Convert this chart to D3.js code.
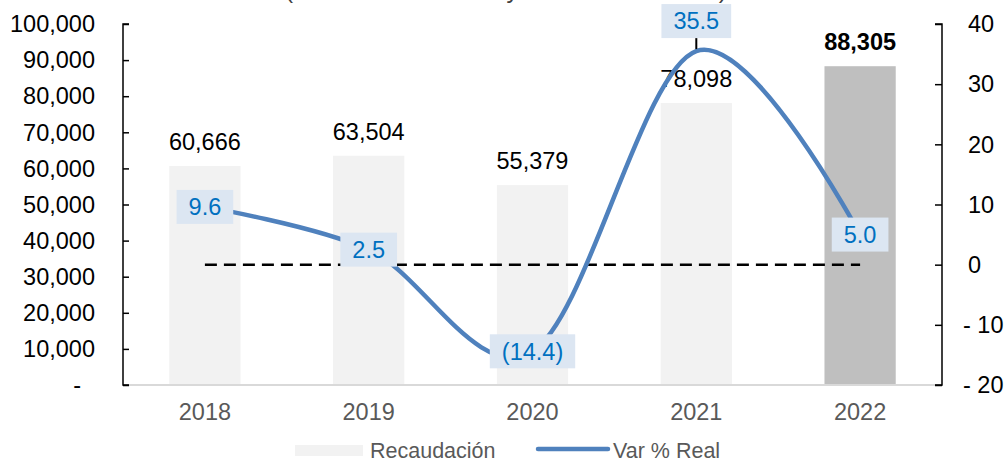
<!DOCTYPE html>
<html>
<head>
<meta charset="utf-8">
<script src="https://cdn.jsdelivr.net/npm/d3@7"></script>
<style>
  body { margin: 0; background: #fff; }
  text { font-family: "Liberation Sans", Arial, sans-serif; }
</style>
</head>
<body>
<div id="chart"></div>
<script>
"use strict"
// Data
var years = ["2018", "2019", "2020", "2021", "2022"];
var recaudacion = [60666, 63504, 55379, 78098, 88305];
var varReal = [9.6, 2.5, -14.4, 35.5, 5.0];
var leftTicks = [0, 10000, 20000, 30000, 40000, 50000, 60000, 70000, 80000, 90000, 100000];
var rightTicks = [-20, -10, 0, 10, 20, 30, 40];
var title = "(Millones de Pesos y Variación % Real)";

var width = 1006;
var height = 460;
var margin = { top: 24, right: 64, bottom: 75, left: 123 };
var drawWidth = width - margin.left - margin.right;
var drawHeight = height - margin.top - margin.bottom;

var xScale = d3.scaleBand().domain(years).range([0, drawWidth]).paddingInner(0.565).paddingOuter(0.2825);
var yLeft = d3.scaleLinear().domain([0, 100000]).range([drawHeight, 0]);
var yRight = d3.scaleLinear().domain([-20, 40]).range([drawHeight, 0]);
var fmt = d3.format(",");
var fontSize = 23.5;

var svg = d3.select("#chart").append("svg")
    .attr("width", width)
    .attr("height", height);

// title is clipped by the top edge in the reference
svg.append("text")
    .attr("x", 285)
    .attr("y", -2)
    .attr("textLength", 442)
    .style("font-size", "24.5px")
    .attr("fill", "#404040")
    .text(title);

var g = svg.append("g")
    .attr("transform", "translate(" + margin.left + "," + margin.top + ")");

// Bars
g.selectAll(".bar")
    .data(recaudacion)
    .enter()
    .append("rect")
    .attr("class", "bar")
    .attr("x", function(d, i) { return xScale(years[i]) })
    .attr("width", xScale.bandwidth())
    .attr("y", function(d) { return yLeft(d) })
    .attr("height", function(d) { return drawHeight - yLeft(d) })
    .attr("fill", function(d, i) { return i == years.length - 1 ? "#bfbfbf" : "#f2f2f2" });

// Bar value labels
g.selectAll(".barLabel")
    .data(recaudacion)
    .enter()
    .append("text")
    .attr("class", "barLabel")
    .attr("x", function(d, i) { return xScale(years[i]) + xScale.bandwidth() / 2 })
    .attr("y", function(d) { return yLeft(d) - 16 })
    .attr("text-anchor", "middle")
    .style("font-size", fontSize + "px")
    .style("font-weight", function(d, i) { return i == years.length - 1 ? "bold" : "normal" })
    .attr("fill", "#000")
    .text(function(d) { return fmt(d) });

// Bottom axis line (light gray)
g.append("line")
    .attr("x1", 0).attr("x2", drawWidth)
    .attr("y1", drawHeight).attr("y2", drawHeight)
    .attr("stroke", "#d9d9d9")
    .attr("stroke-width", 2);

// Left axis, ticks pointing inward
var yAxisLeft = d3.axisRight(yLeft).tickValues(leftTicks).tickSize(6).tickFormat("");
var gl = g.append("g").call(yAxisLeft);
gl.select(".domain").attr("stroke", "#000").attr("stroke-width", 1.5).attr("d", "M6,0H0V" + drawHeight + "H6");
gl.selectAll(".tick line").attr("stroke", "#000").attr("stroke-width", 1.5);
g.selectAll(".leftLabel")
    .data(leftTicks)
    .enter()
    .append("text")
    .attr("class", "leftLabel")
    .attr("x", function(d) { return d == 0 ? -42 : -28 })
    .attr("y", function(d) { return yLeft(d) })
    .attr("dy", "0.35em")
    .attr("text-anchor", "end")
    .style("font-size", fontSize + "px")
    .attr("fill", "#000")
    .text(function(d) { return d == 0 ? "-" : fmt(d) });

// Right axis, ticks pointing inward
var yAxisRight = d3.axisLeft(yRight).tickValues(rightTicks).tickSize(7).tickFormat("");
var gr = g.append("g").attr("transform", "translate(" + drawWidth + ",0)").call(yAxisRight);
gr.select(".domain").attr("stroke", "#000").attr("stroke-width", 1.5).attr("d", "M-7,0H0V" + drawHeight + "H-7");
gr.selectAll(".tick line").attr("stroke", "#000").attr("stroke-width", 1.5);
g.selectAll(".rightLabel")
    .data(rightTicks)
    .enter()
    .append("text")
    .attr("class", "rightLabel")
    .attr("x", function(d) { return drawWidth + (d < 0 ? 21 : 26) })
    .attr("y", function(d) { return yRight(d) })
    .attr("dy", "0.35em")
    .style("font-size", fontSize + "px")
    .attr("fill", "#000")
    .text(function(d) { return d < 0 ? "- " + Math.abs(d) : d });

// X axis labels
g.selectAll(".xLabel")
    .data(years)
    .enter()
    .append("text")
    .attr("class", "xLabel")
    .attr("x", function(d) { return xScale(d) + xScale.bandwidth() / 2 })
    .attr("y", drawHeight + 35)
    .attr("text-anchor", "middle")
    .style("font-size", fontSize + "px")
    .attr("fill", "#595959")
    .text(function(d) { return d });

// Dashed zero line from first to last category
g.append("line")
    .attr("x1", xScale(years[0]) + xScale.bandwidth() / 2)
    .attr("x2", xScale(years[years.length - 1]) + xScale.bandwidth() / 2)
    .attr("y1", yRight(0)).attr("y2", yRight(0))
    .attr("stroke", "#000")
    .attr("stroke-width", 2.5)
    .attr("stroke-dasharray", "12,7");

// Smoothed variation line
var line = d3.line()
    .x(function(d, i) { return xScale(years[i]) + xScale.bandwidth() / 2 })
    .y(function(d) { return yRight(d) })
    .curve(d3.curveCardinal.tension(0));

g.append("path")
    .datum(varReal)
    .attr("d", line)
    .attr("fill", "none")
    .attr("stroke", "#4f81bd")
    .attr("stroke-width", 4.5)
    .attr("stroke-linecap", "round");

// Line labels: boxed, centered on the point, except the peak which sits above with a leader
function labelText(d) {
    return d < 0 ? "(" + Math.abs(d).toFixed(1) + ")" : d.toFixed(1);
}
var peak = d3.maxIndex(varReal);
var peakLift = 30;

// leader line for the peak label
g.append("line")
    .attr("x1", xScale(years[peak]) + xScale.bandwidth() / 2)
    .attr("x2", xScale(years[peak]) + xScale.bandwidth() / 2)
    .attr("y1", yRight(varReal[peak]) - peakLift + 17)
    .attr("y2", yRight(varReal[peak]) - 2)
    .attr("stroke", "#000")
    .attr("stroke-width", 2);

var labels = g.selectAll(".lineLabel")
    .data(varReal)
    .enter()
    .append("g")
    .attr("class", "lineLabel")
    .attr("transform", function(d, i) {
        var cx = xScale(years[i]) + xScale.bandwidth() / 2;
        var cy = i == peak ? yRight(d) - peakLift : yRight(d);
        return "translate(" + cx + "," + cy + ")";
    });

labels.append("text")
    .attr("text-anchor", "middle")
    .attr("dy", "0.35em")
    .style("font-size", fontSize + "px")
    .attr("fill", "#0070c0")
    .text(labelText);

labels.each(function() {
    var grp = d3.select(this);
    var bb = grp.select("text").node().getBBox();
    grp.insert("rect", "text")
        .attr("x", bb.x - 12)
        .attr("y", -17)
        .attr("width", bb.width + 24)
        .attr("height", 34)
        .attr("fill", "#dce6f2");
});

// Legend
var legend = svg.append("g").attr("transform", "translate(0,450)");
legend.append("rect")
    .attr("x", 295).attr("y", -5)
    .attr("width", 68).attr("height", 11)
    .attr("fill", "#f2f2f2");
legend.append("text")
    .attr("x", 370).attr("y", 0).attr("dy", "0.35em")
    .style("font-size", "21.5px")
    .attr("fill", "#595959")
    .text("Recaudación");
legend.append("line")
    .attr("x1", 538).attr("x2", 608)
    .attr("y1", -1).attr("y2", -1)
    .attr("stroke", "#4f81bd")
    .attr("stroke-width", 4.5)
    .attr("stroke-linecap", "round");
legend.append("text")
    .attr("x", 613).attr("y", 0).attr("dy", "0.35em")
    .style("font-size", "21.5px")
    .attr("fill", "#595959")
    .text("Var % Real");
</script>
</body>
</html>
